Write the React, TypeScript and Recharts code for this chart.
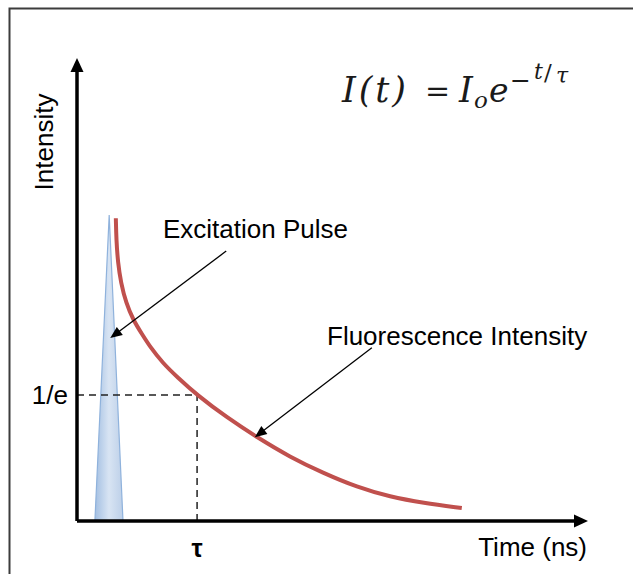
import React from "react";
import { ComposedChart, Line, Area, XAxis, YAxis, ReferenceLine } from "recharts";

// fluorescence decay curve (x: time, y: intensity, both 0-100)
const decayTime = [7.6, 7.7, 8.0, 8.6, 9.6, 11.0, 12.7, 14.3, 16.8, 19.6, 23.5, 29.4, 35.2, 41.7, 48.1, 54.8, 61.3, 67.7, 75.3];
const decayIntensity = [65.4, 60.7, 55.9, 51.4, 47.1, 43.4, 40.4, 37.6, 34.1, 31.1, 27.2, 22.3, 18.1, 13.8, 10.4, 7.3, 5.2, 3.9, 2.8];

// excitation pulse (triangle)
const pulseTime = [3.5, 6.3, 9.0];
const pulseIntensity = [0, 66.1, 0];

// marked lifetime and 1/e level
const tauTime = 23.5;
const invELevel = 27.2;
const xTickLabels = ["τ"];
const yTickLabels = ["1/e"];

const decayData = decayTime.map((t, i) => ({ t, i: decayIntensity[i] }));
const pulseData = pulseTime.map((t, i) => ({ t, i: pulseIntensity[i] }));

const SANS = "'Liberation Sans', Arial, sans-serif";
const SERIF = "'DejaVu Serif', 'Liberation Serif', serif";

function arrow(width: number, head: number, headW: number) {
  return (props: any) => {
    const x1 = Number(props.x1), y1 = Number(props.y1);
    const x2 = Number(props.x2), y2 = Number(props.y2);
    const dx = x2 - x1, dy = y2 - y1;
    const len = Math.hypot(dx, dy) || 1;
    const ux = dx / len, uy = dy / len;
    const bx = x2 - ux * head, by = y2 - uy * head;
    const px = (-uy * headW) / 2, py = (ux * headW) / 2;
    return (
      <g>
        <line x1={x1} y1={y1} x2={bx + ux} y2={by + uy} stroke="#000" strokeWidth={width} />
        <polygon points={`${x2},${y2} ${bx + px},${by + py} ${bx - px},${by - py}`} fill="#000" />
      </g>
    );
  };
}

export default function App() {
  return (
    <div style={{ position: "relative", width: 633, height: 574, background: "#fff" }}>
      <style>{"body{margin:0}"}</style>
      <ComposedChart
        width={633}
        height={574}
        margin={{ top: 58, right: 45, bottom: 0, left: 0 }}
      >
        <defs>
          <linearGradient id="pulseFill" x1="0" y1="0" x2="1" y2="0">
            <stop offset="0%" stopColor="#a3bfe2" />
            <stop offset="50%" stopColor="#d8e4f3" />
            <stop offset="100%" stopColor="#bccfe8" />
          </linearGradient>
        </defs>
        <XAxis
          dataKey="t"
          type="number"
          domain={[0, 100]}
          ticks={[tauTime]}
          interval={0}
          tickFormatter={(_v: number, idx: number) => xTickLabels[idx] ?? ""}
          axisLine={false}
          tickLine={false}
          tickMargin={12}
          height={53}
          tick={{ fontSize: 25, fill: "#000", fontWeight: "bold", fontFamily: SANS }}
        />
        <YAxis
          type="number"
          domain={[0, 100]}
          ticks={[invELevel]}
          interval={0}
          tickFormatter={(_v: number, idx: number) => yTickLabels[idx] ?? ""}
          axisLine={false}
          tickLine={false}
          tickMargin={3}
          width={77}
          tick={{ fontSize: 26, fill: "#000", fontFamily: SANS }}
        />
        <ReferenceLine
          segment={[{ x: 0, y: invELevel }, { x: tauTime, y: invELevel }]}
          stroke="#222"
          strokeWidth={1.5}
          strokeDasharray="7 5"
          ifOverflow="visible"
        />
        <ReferenceLine
          segment={[{ x: tauTime, y: 0 }, { x: tauTime, y: invELevel }]}
          stroke="#222"
          strokeWidth={1.5}
          strokeDasharray="7 5"
          ifOverflow="visible"
        />
        <Area
          data={pulseData}
          dataKey="i"
          type="linear"
          baseValue={0}
          fill="url(#pulseFill)"
          fillOpacity={1}
          stroke="#8fb2dc"
          strokeWidth={1.2}
          isAnimationActive={false}
        />
        <Line
          data={decayData}
          dataKey="i"
          type="basis"
          stroke="#c0504d"
          strokeWidth={4}
          dot={false}
          isAnimationActive={false}
        />
        {/* axes with arrowheads */}
        <ReferenceLine
          segment={[{ x: 0, y: 0 }, { x: 100, y: 0 }]}
          ifOverflow="visible"
          shape={arrow(3.5, 14, 13)}
        />
        <ReferenceLine
          segment={[{ x: 0, y: 0 }, { x: 0, y: 100 }]}
          ifOverflow="visible"
          shape={arrow(3.5, 14, 13)}
        />
        {/* annotation arrows */}
        <ReferenceLine
          segment={[{ x: 29.2, y: 58.3 }, { x: 6.5, y: 39.5 }]}
          ifOverflow="visible"
          shape={arrow(1.3, 12, 10)}
        />
        <ReferenceLine
          segment={[{ x: 57.7, y: 37.4 }, { x: 34.8, y: 18.1 }]}
          ifOverflow="visible"
          shape={arrow(1.3, 12, 10)}
        />
      </ComposedChart>
      <svg
        width={633}
        height={574}
        style={{ position: "absolute", left: 0, top: 0, pointerEvents: "none" }}
      >
        <rect x={9.5} y={8.5} width={700} height={700} fill="none" stroke="#3c3c3c" strokeWidth={2} />
        <text
          x={0}
          y={0}
          transform="translate(53,142) rotate(-90)"
          textAnchor="middle"
          fontSize={26}
          fontFamily={SANS}
          fill="#000"
        >
          Intensity
        </text>
        <text x={163} y={238} fontSize={26} fontFamily={SANS} fill="#000">
          Excitation Pulse
        </text>
        <text x={327} y={345} fontSize={26} fontFamily={SANS} fill="#000">
          Fluorescence Intensity
        </text>
        <text x={587} y={556} textAnchor="end" fontSize={26} fontFamily={SANS} fill="#000">
          Time (ns)
        </text>
        <g fontFamily={SERIF} fill="#1a1a1a" fontStyle="italic">
          <text x={342} y={102} fontSize={35} textLength={64} lengthAdjust="spacing">I(t)</text>
          <text x={425} y={101} fontSize={30} fontStyle="normal">=</text>
          <text x={459} y={102} fontSize={35}>I</text>
          <text x={474} y={108} fontSize={23}>o</text>
          <text x={489} y={102} fontSize={33}>e</text>
          <text x={510} y={89} fontSize={25} fontStyle="normal">−</text>
          <text x={534} y={79} fontSize={22}>t</text>
          <text x={544} y={80} fontSize={23} fontStyle="normal">/</text>
          <text x={556} y={83} fontSize={22}>τ</text>
        </g>
      </svg>
    </div>
  );
}
